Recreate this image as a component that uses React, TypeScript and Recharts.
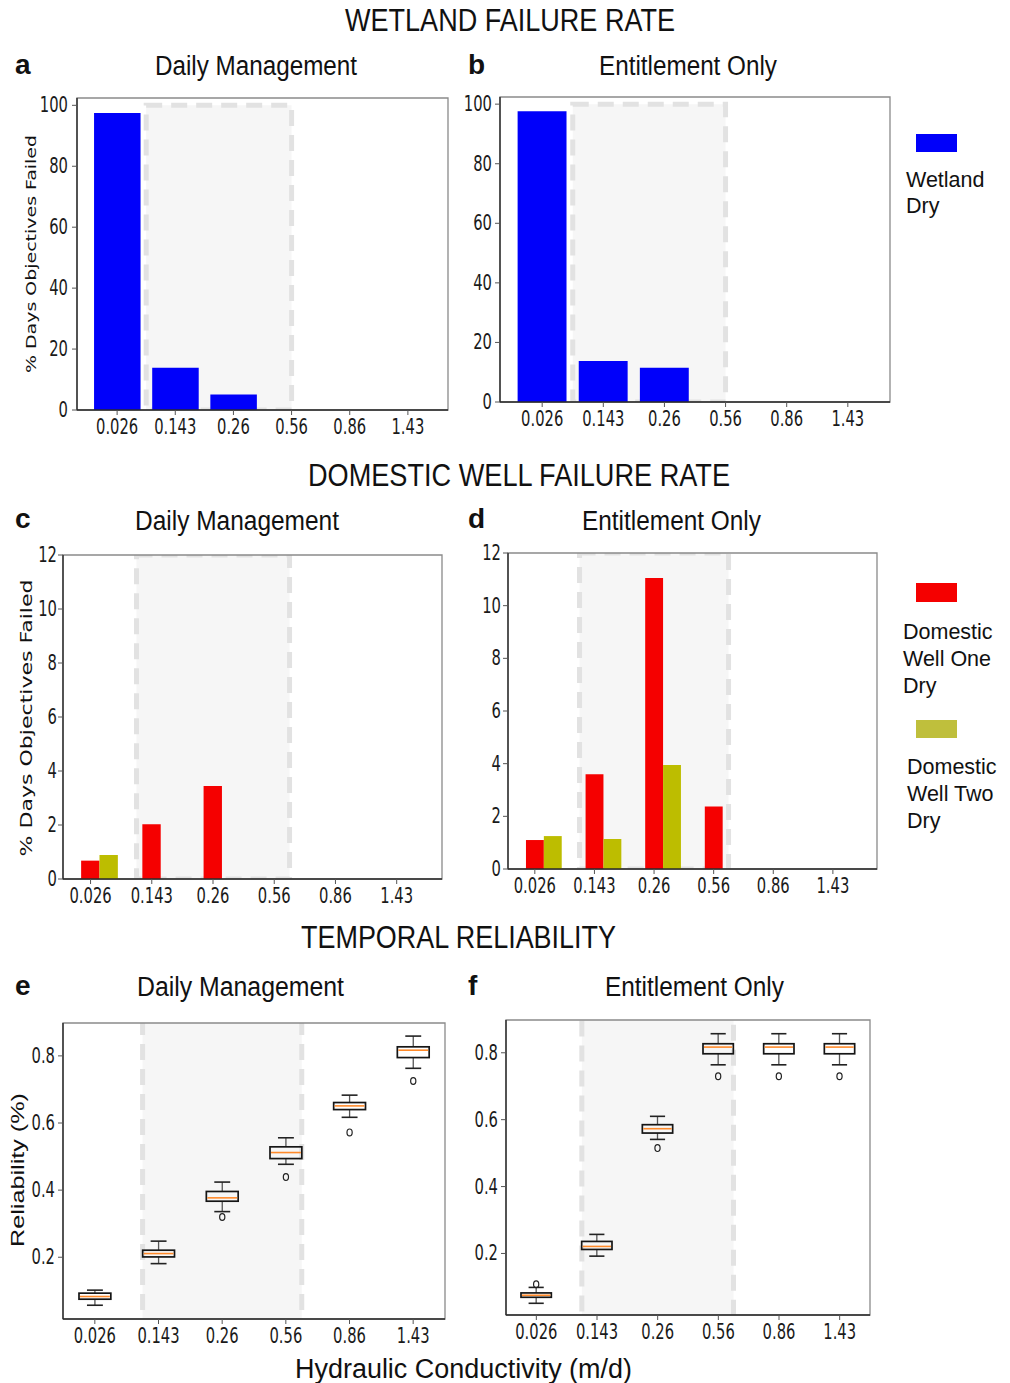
import React from "react";
import { ComposedChart, Bar, XAxis, YAxis, ReferenceArea } from "recharts";

const conductivity = ["0.026", "0.143", "0.26", "0.56", "0.86", "1.43"];

// % days the wetland objective failed
const wetlandDaily = [97.5, 13.9, 5.1, 0, 0, 0];
const wetlandEntitlement = [97.6, 13.8, 11.5, 0, 0, 0];

// % days each domestic well went dry
const wellOneDaily = [0.68, 2.03, 3.44, 0, 0, 0];
const wellTwoDaily = [0.89, 0, 0, 0, 0, 0];
const wellOneEntitlement = [1.1, 3.6, 11.05, 2.37, 0, 0];
const wellTwoEntitlement = [1.25, 1.14, 3.95, 0, 0, 0];

// temporal reliability, daily management
const dailyLow = [0.057, 0.181, 0.336, 0.477, 0.617, 0.763];
const dailyQ1 = [0.075, 0.201, 0.367, 0.494, 0.64, 0.795];
const dailyMedian = [0.083, 0.211, 0.377, 0.512, 0.651, 0.817];
const dailyQ3 = [0.093, 0.221, 0.396, 0.529, 0.661, 0.827];
const dailyHigh = [0.102, 0.248, 0.424, 0.556, 0.683, 0.859];
const dailyFliers = [[], [], [0.32], [0.439], [0.572], [0.725]];

// temporal reliability, entitlement only
const entLow = [0.051, 0.192, 0.541, 0.764, 0.764, 0.764];
const entQ1 = [0.069, 0.212, 0.56, 0.797, 0.797, 0.797];
const entMedian = [0.075, 0.221, 0.573, 0.817, 0.817, 0.817];
const entQ3 = [0.082, 0.236, 0.585, 0.827, 0.827, 0.827];
const entHigh = [0.0985, 0.257, 0.61, 0.857, 0.857, 0.857];
const entFliers = [[0.108], [], [0.515], [0.73], [0.73], [0.73]];

const BLUE = "#0000fa";
const RED = "#f50000";
const OLIVE = "#bdbd00";
const WELL_BAR = 0.3;

const SANS = "Liberation Sans, Arial, sans-serif";
const MPL = "DejaVu Sans, sans-serif";

const wetlandRows = (vals: number[]) =>
  conductivity.map((k, i) => ({ pos: i, k, value: vals[i] }));

const wellRows = (one: number[], two: number[]) =>
  conductivity.map((k, i) => ({ pos: i + WELL_BAR / 2, k, one: one[i], two: two[i] }));

const boxRows = (lo: number[], q1: number[], med: number[], q3: number[], hi: number[], fl: number[][]) =>
  conductivity.map((k, i) => ({ pos: i, k, low: lo[i], q1: q1[i], median: med[i], q3: q3[i], high: hi[i], fliers: fl[i] }));

const XTick = (p: any) => (
  <g transform={`translate(${p.x},${p.y}) scale(0.72,1)`}>
    <text x={0} y={0} dy={19} textAnchor="middle" fontSize={20.5} fontFamily={MPL} fill="#1a1a1a">
      {conductivity[Math.round(p.payload.value)]}
    </text>
  </g>
);

const makeYTick = (fmt: (v: number) => string, gap: number) => (p: any) => (
  <g transform={`translate(${p.x + 5 - gap},${p.y}) scale(0.72,1)`}>
    <text x={0} y={0} dy={7} textAnchor="end" fontSize={20.5} fontFamily={MPL} fill="#1a1a1a">
      {fmt(p.payload.value)}
    </text>
  </g>
);

// matplotlib-style box: whiskers, caps, box, median, hollow fliers
const BoxShape = (props: any) => {
  const { x, y, width, height, payload } = props;
  if (width == null || payload == null) return null;
  const top = Math.min(y, y + height);
  const bot = Math.max(y, y + height);
  const { low, q1, median, q3, high, fliers } = payload;
  const py = (v: number) => top + ((high - v) / (high - low)) * (bot - top);
  const cx = x + width / 2;
  const cap = width / 4;
  return (
    <g>
      <line x1={cx} x2={cx} y1={py(high)} y2={py(q3)} stroke="#555" strokeWidth={1.3} />
      <line x1={cx} x2={cx} y1={py(q1)} y2={py(low)} stroke="#555" strokeWidth={1.3} />
      <line x1={cx - cap} x2={cx + cap} y1={py(high)} y2={py(high)} stroke="#222" strokeWidth={1.6} />
      <line x1={cx - cap} x2={cx + cap} y1={py(low)} y2={py(low)} stroke="#222" strokeWidth={1.6} />
      <rect x={x} y={py(q3)} width={width} height={py(q1) - py(q3)} fill="none" stroke="#151515" strokeWidth={1.7} />
      <line x1={x + 1} x2={x + width - 1} y1={py(median)} y2={py(median)} stroke="#ff8a2a" strokeWidth={1.6} />
      {fliers.map((f: number, j: number) => (
        <ellipse key={j} cx={cx} cy={py(f)} rx={2.6} ry={3.4} fill="none" stroke="#222" strokeWidth={1.2} />
      ))}
    </g>
  );
};

type Plot = { x: number; y: number; w: number; h: number };

function Panel(props: {
  plot: Plot;
  xDomain: [number, number];
  yDomain: [number, number];
  yTicks: number[];
  yFmt: (v: number) => string;
  yGap: number;
  band: { x1: number; x2: number; y1: number; y2: number };
  data: any[];
  series: (ppu: number) => React.ReactNode;
}) {
  const { plot, xDomain, yDomain, yTicks, yFmt, yGap, band, data, series } = props;
  const YW = 60, XH = 40, MT = 20, MR = 10;
  const ppu = plot.w / (xDomain[1] - xDomain[0]);
  return (
    <div style={{ position: "absolute", left: plot.x - YW, top: plot.y - MT }}>
      <ComposedChart
        width={plot.w + YW + MR}
        height={plot.h + MT + XH}
        data={data}
        margin={{ top: MT, right: MR, bottom: 0, left: 0 }}
        barGap={0}
      >
        <ReferenceArea
          x1={band.x1}
          x2={band.x2}
          y1={band.y1}
          y2={band.y2}
          fill="#f6f6f6"
          fillOpacity={1}
          stroke="#e2e2e2"
          strokeWidth={5}
          strokeDasharray="16 9"
          ifOverflow="hidden"
        />
        <ReferenceArea
          x1={xDomain[0]}
          x2={xDomain[1]}
          y1={yDomain[0]}
          y2={yDomain[1]}
          fill="none"
          fillOpacity={0}
          stroke="#8a8a8a"
          strokeWidth={1.3}
          ifOverflow="visible"
        />
        <XAxis
          type="number"
          dataKey="pos"
          domain={xDomain}
          ticks={[0, 1, 2, 3, 4, 5]}
          interval={0}
          allowDataOverflow
          height={XH}
          tickSize={5}
          tickMargin={0}
          tickLine={{ stroke: "#555" }}
          axisLine={{ stroke: "#2a2a2a", strokeWidth: 1.4 }}
          tick={XTick}
        />
        <YAxis
          type="number"
          domain={yDomain}
          ticks={yTicks}
          interval={0}
          allowDataOverflow
          width={YW}
          tickSize={5}
          tickMargin={0}
          tickLine={{ stroke: "#555" }}
          axisLine={{ stroke: "#2a2a2a", strokeWidth: 1.4 }}
          tick={makeYTick(yFmt, yGap)}
        />
        {series(ppu)}
      </ComposedChart>
    </div>
  );
}

const pctTicks = [0, 20, 40, 60, 80, 100];
const wellTicks = [0, 2, 4, 6, 8, 10, 12];
const relTicks = [0.2, 0.4, 0.6, 0.8];

const intFmt = (v: number) => String(v);
const decFmt = (v: number) => v.toFixed(1);

function Label(p: { x: number; y: number; w?: number; size: number; bold?: boolean; family?: string; children: string }) {
  return (
    <text
      x={p.x}
      y={p.y}
      fontSize={p.size}
      fontWeight={p.bold ? 700 : 400}
      fontFamily={p.family || SANS}
      fill="#111"
      textLength={p.w}
      lengthAdjust={p.w ? "spacingAndGlyphs" : undefined}
    >
      {p.children}
    </text>
  );
}

function AxisTitle(p: { cx: number; cy: number; len: number; size: number; family: string; children: string }) {
  return (
    <text
      transform={`translate(${p.cx},${p.cy}) scale(0.75,1) rotate(-90)`}
      x={-p.len / 2}
      y={0}
      dy="0.35em"
      fontSize={p.size}
      fontFamily={p.family}
      fill="#111"
      textLength={p.len}
      lengthAdjust="spacingAndGlyphs"
    >
      {p.children}
    </text>
  );
}

export default function App() {
  const wetBars = (ppu: number) => (
    <Bar dataKey="value" fill={BLUE} barSize={0.8 * ppu} isAnimationActive={false} />
  );
  const wellBars = (ppu: number) => [
    <Bar key="one" dataKey="one" fill={RED} barSize={WELL_BAR * ppu} isAnimationActive={false} />,
    <Bar key="two" dataKey="two" fill={OLIVE} barSize={WELL_BAR * ppu} isAnimationActive={false} />,
  ];
  const boxes = (ppu: number) => (
    <Bar dataKey={(d: any) => [d.low, d.high]} barSize={0.5 * ppu} shape={BoxShape} isAnimationActive={false} />
  );

  return (
    <div style={{ position: "absolute", left: 0, top: 0, width: 1010, height: 1383, background: "#fff" }}>
      <Panel
        plot={{ x: 77, y: 98, w: 371, h: 312 }}
        xDomain={[-0.69, 5.69]}
        yDomain={[0, 102.4]}
        yTicks={pctTicks}
        yFmt={intFmt}
        yGap={9}
        band={{ x1: 0.5, x2: 3, y1: 0, y2: 100 }}
        data={wetlandRows(wetlandDaily)}
        series={wetBars}
      />
      <Panel
        plot={{ x: 500, y: 97, w: 390, h: 305 }}
        xDomain={[-0.69, 5.69]}
        yDomain={[0, 102.4]}
        yTicks={pctTicks}
        yFmt={intFmt}
        yGap={8}
        band={{ x1: 0.5, x2: 3, y1: 0, y2: 100 }}
        data={wetlandRows(wetlandEntitlement)}
        series={wetBars}
      />
      <Panel
        plot={{ x: 63, y: 555, w: 379, h: 324 }}
        xDomain={[-0.45, 5.74]}
        yDomain={[0, 12]}
        yTicks={wellTicks}
        yFmt={intFmt}
        yGap={6}
        band={{ x1: 0.75, x2: 3.25, y1: 0, y2: 12 }}
        data={wellRows(wellOneDaily, wellTwoDaily)}
        series={wellBars}
      />
      <Panel
        plot={{ x: 508, y: 553, w: 369, h: 316 }}
        xDomain={[-0.45, 5.74]}
        yDomain={[0, 12]}
        yTicks={wellTicks}
        yFmt={intFmt}
        yGap={7}
        band={{ x1: 0.75, x2: 3.25, y1: 0, y2: 12 }}
        data={wellRows(wellOneEntitlement, wellTwoEntitlement)}
        series={wellBars}
      />
      <Panel
        plot={{ x: 63, y: 1023, w: 382, h: 296 }}
        xDomain={[-0.5, 5.5]}
        yDomain={[0.016, 0.898]}
        yTicks={relTicks}
        yFmt={decFmt}
        yGap={8}
        band={{ x1: 0.75, x2: 3.25, y1: -1, y2: 2 }}
        data={boxRows(dailyLow, dailyQ1, dailyMedian, dailyQ3, dailyHigh, dailyFliers)}
        series={boxes}
      />
      <Panel
        plot={{ x: 506, y: 1020, w: 364, h: 295 }}
        xDomain={[-0.5, 5.5]}
        yDomain={[0.016, 0.898]}
        yTicks={relTicks}
        yFmt={decFmt}
        yGap={8}
        band={{ x1: 0.75, x2: 3.25, y1: -1, y2: 2 }}
        data={boxRows(entLow, entQ1, entMedian, entQ3, entHigh, entFliers)}
        series={boxes}
      />

      <svg width={1010} height={1383} style={{ position: "absolute", left: 0, top: 0, pointerEvents: "none" }}>
        <Label x={345} y={31} w={330} size={31}>WETLAND FAILURE RATE</Label>
        <Label x={308} y={486} w={422} size={31}>DOMESTIC WELL FAILURE RATE</Label>
        <Label x={301} y={948} w={315} size={31}>TEMPORAL RELIABILITY</Label>

        <Label x={15} y={74} size={28} bold>a</Label>
        <Label x={468} y={74} size={28} bold>b</Label>
        <Label x={15} y={528} size={28} bold>c</Label>
        <Label x={468} y={528} size={28} bold>d</Label>
        <Label x={15} y={995} size={28} bold>e</Label>
        <Label x={468} y={995} size={28} bold>f</Label>

        <Label x={155} y={75} w={202} size={27}>Daily Management</Label>
        <Label x={599} y={75} w={178} size={27}>Entitlement Only</Label>
        <Label x={135} y={530} w={204} size={27}>Daily Management</Label>
        <Label x={582} y={530} w={179} size={27}>Entitlement Only</Label>
        <Label x={137} y={996} w={207} size={27}>Daily Management</Label>
        <Label x={605} y={996} w={179} size={27}>Entitlement Only</Label>

        <AxisTitle cx={31} cy={254} len={238} size={19} family={MPL}>% Days Objectives Failed</AxisTitle>
        <AxisTitle cx={27} cy={718} len={277} size={20} family={MPL}>% Days Objectives Failed</AxisTitle>
        <AxisTitle cx={18} cy={1170} len={154} size={24} family={SANS}>Reliability (%)</AxisTitle>
        <Label x={295} y={1378} w={337} size={27}>Hydraulic Conductivity (m/d)</Label>

        <rect x={916} y={134} width={41} height={18} fill={BLUE} />
        <Label x={906} y={187} size={21.5}>Wetland</Label>
        <Label x={906} y={213} size={21.5}>Dry</Label>

        <rect x={916} y={583} width={41} height={19} fill={RED} />
        <Label x={903} y={639} size={21.5}>Domestic</Label>
        <Label x={903} y={666} size={21.5}>Well One</Label>
        <Label x={903} y={693} size={21.5}>Dry</Label>

        <rect x={916} y={720} width={41} height={18} fill="#bfbf3c" />
        <Label x={907} y={774} size={21.5}>Domestic</Label>
        <Label x={907} y={801} size={21.5}>Well Two</Label>
        <Label x={907} y={828} size={21.5}>Dry</Label>
      </svg>
    </div>
  );
}
